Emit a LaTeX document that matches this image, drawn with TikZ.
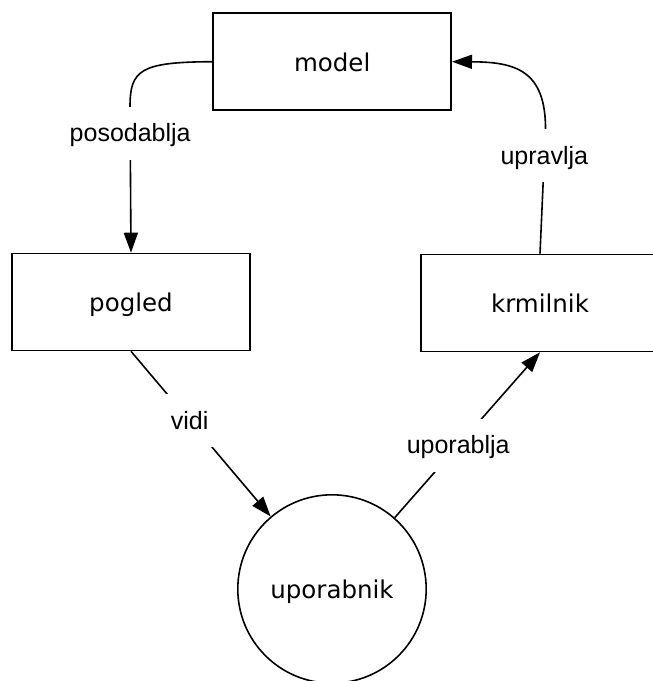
\documentclass[tikz,border=0pt]{standalone}
\usepackage{fontspec}
\usetikzlibrary{arrows.meta,calc}
\newfontfamily\boxfont{DejaVu Sans}
\newfontfamily\edgefont{Liberation Sans}

\tikzset{
  unit/.style={x=1pt,y=-1pt},
  part/.style={draw,line width=1.6pt,rectangle,minimum width=238pt,minimum height=97pt,
    inner sep=0pt,font=\boxfont\fontsize{24.5pt}{28pt}\selectfont,
    text height=18.6pt,text depth=0pt},
  actor/.style={draw,line width=1.6pt,circle,minimum size=188.4pt,inner sep=0pt,
    font=\boxfont\fontsize{24.5pt}{28pt}\selectfont,text height=18.6pt,text depth=0pt},
  link/.style={line width=1.6pt,-{Triangle[length=20pt,width=14pt]}},
  lbl/.style={fill=white,inner xsep=5pt,inner ysep=18pt,
    font=\edgefont\fontsize{25pt}{29pt}\selectfont,text height=17pt,text depth=0pt},
}

\begin{document}
\begin{tikzpicture}[unit]
  \path[use as bounding box,clip] (0,0) rectangle (653,681);

  % components
  \node[part]  (model)    at (332.2,61.7) {model};
  \node[part]  (pogled)   at (131,302)    {pogled};
  \node[part]  (krmilnik) at (540,303)    {krmilnik};
  \node[actor] (user)     at (332,589)    {uporabnik};

  % relations
  \draw[link] (model.west) .. controls (140,62) and (130,70) .. (130,107)
      -- node[lbl,pos=0.18] {posodablja} (pogled.north);
  \draw[link] (krmilnik.north) -- node[lbl,pos=0.79] {upravlja} (545.5,130)
      .. controls (546,70) and (515,62) .. (model.east);
  \draw[link] (pogled.south) -- node[lbl,pos=0.42] {vidi} (user);
  \draw[link] (user) -- node[lbl,pos=0.437] {uporablja} (krmilnik.south);
\end{tikzpicture}
\end{document}
